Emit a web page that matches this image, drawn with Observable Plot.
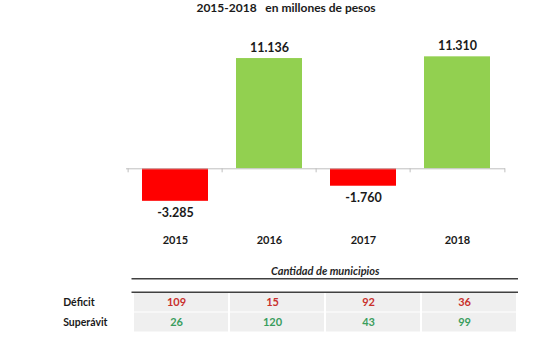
<!DOCTYPE html>
<html><head><meta charset="utf-8">
<script src="https://cdn.jsdelivr.net/npm/d3@7"></script>
<script src="https://cdn.jsdelivr.net/npm/@observablehq/plot@0.6"></script>
<style>
body{margin:0;background:#fff;}
#wrap{position:relative;width:540px;height:360px;overflow:hidden;font-family:Lato,sans-serif;background:#fff;}
#title{position:absolute;left:0;top:0;width:508px;padding-left:32px;height:16px;line-height:15px;font-weight:bold;font-size:12px;color:#1a1a1a;text-align:center;white-space:pre;}
#chart{position:absolute;left:0;top:16px;}
#table{position:absolute;left:0;top:252px;}
</style></head>
<body><div id="wrap"><div id="title"></div><div id="chart"></div><div id="table"></div></div>
<script>
const titleText = "2015-2018   en millones de pesos";
const years = ["2015", "2016", "2017", "2018"];
const resultado = [-3285, 11136, -1760, 11310];
const rowLabels = ["Déficit", "Superávit"];
const deficitCount = [109, 15, 92, 36];
const superavitCount = [26, 120, 43, 99];
const tableTitle = "Cantidad de municipios";

const RED = "#ff0000", GREEN = "#92d050";
const TRED = "#c9302c", TGREEN = "#3a9d5d";
const fmt = d3.formatLocale({decimal: ",", thousands: ".", grouping: [3], currency: ["$", ""], minus: "-"}).format(",d");

document.getElementById("title").textContent = titleText;

const bars = years.map((y, i) => ({year: y, value: resultado[i]}));
const left1 = 126, right1 = 505;
const step = (right1 - left1) / years.length;

const chart = Plot.plot({
  width: 540, height: 236,
  marginLeft: left1, marginRight: 540 - right1, marginTop: 33.5, marginBottom: 34.2,
  x: {domain: years, paddingInner: 0.3, paddingOuter: 0.15, axis: null},
  y: {domain: [-5000, 12000], axis: null},
  color: {type: "identity"},
  style: {fontFamily: "Lato, sans-serif", overflow: "visible", background: "transparent", color: "#1a1a1a"},
  marks: [
    Plot.barY(bars, {x: "year", y: "value", fill: d => d.value < 0 ? RED : GREEN}),
    Plot.ruleY([0], {stroke: "#bfbfbf", strokeWidth: 1}),
    Plot.ruleX(years, {x: d => d, y1: 0, y2: 0, insetBottom: -4, dx: -step / 2, stroke: "#bfbfbf"}),
    Plot.ruleX(years.slice(-1), {x: d => d, y1: 0, y2: 0, insetBottom: -4, dx: step / 2, stroke: "#bfbfbf"}),
    Plot.text(bars, {filter: d => d.value >= 0, x: "year", y: "value", text: d => fmt(d.value), dy: -11, fontSize: 12.5, fontWeight: "bold", fill: "#1a1a1a"}),
    Plot.text(bars, {filter: d => d.value < 0, x: "year", y: "value", text: d => fmt(d.value), dy: 12, fontSize: 12.5, fontWeight: "bold", fill: "#1a1a1a"}),
    Plot.text(years, {x: d => d, frameAnchor: "bottom", dy: 25.5, fontSize: 11, fontWeight: "bold", fill: "#1a1a1a"})
  ]
});
document.getElementById("chart").append(chart);

const cells = rowLabels.flatMap((r, ri) => years.map((y, i) => ({year: y, row: r, value: ri === 0 ? deficitCount[i] : superavitCount[i]})));
const mTop = 39, mBot = 18, h2 = 98;
const bw = (h2 - mTop - mBot) / rowLabels.length;
const left2 = 131.5, right2 = 518;

const table = Plot.plot({
  width: 540, height: h2,
  marginLeft: left2, marginRight: 540 - right2, marginTop: mTop, marginBottom: mBot,
  x: {domain: years, padding: 0, axis: null},
  y: {domain: rowLabels, padding: 0, axis: null},
  color: {type: "identity"},
  style: {fontFamily: "Lato, sans-serif", overflow: "visible", background: "transparent", color: "#1a1a1a"},
  marks: [
    Plot.cell(cells, {x: "year", y: "row", fill: "#efefef", insetLeft: 1, insetRight: 1, insetTop: 0.5, insetBottom: 0.5}),
    Plot.ruleY([rowLabels[0]], {dy: -bw / 2, stroke: "#404040", strokeWidth: 1.5}),
    Plot.ruleY([rowLabels[0]], {dy: -bw / 2 - 13.4, stroke: "#404040", strokeWidth: 1.5}),
    Plot.text([tableTitle], {frameAnchor: "top", dy: -24.4, fontStyle: "italic", fontWeight: "bold", fontSize: 11, fill: "#262626"}),
    Plot.text(cells, {x: "year", y: "row", text: d => String(d.value), fill: d => d.row === rowLabels[0] ? TRED : TGREEN, dx: -5, fontSize: 11, fontWeight: "bold"}),
    Plot.text(rowLabels, {y: d => d, frameAnchor: "left", textAnchor: "start", dx: 62.7 - left2, fontWeight: "bold", fontSize: 10.5, fill: "#1a1a1a"})
  ]
});
document.getElementById("table").append(table);
</script>
</body></html>
